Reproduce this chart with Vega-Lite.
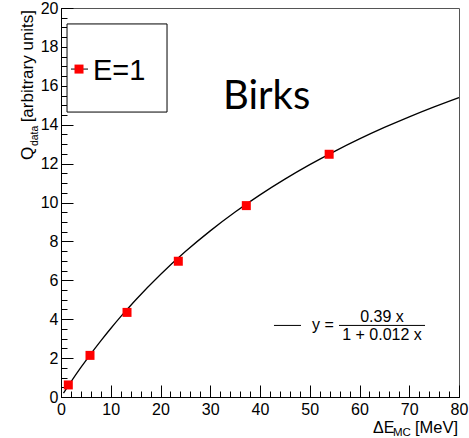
{
  "$schema": "https://vega.github.io/schema/vega-lite/v6.json",
  "width": 398,
  "height": 389,
  "autosize": {"type": "none"},
  "padding": {"left": 61, "top": 8, "right": 10, "bottom": 41},
  "background": "white",
  "config": {
    "view": {"stroke": "#555555", "strokeWidth": 1},
    "axis": {"grid": false, "domainColor": "black", "tickColor": "black", "labelColor": "black", "labelFont": "Liberation Sans", "labelFontSize": 16, "title": null, "domainWidth": 1, "tickWidth": 1},
    "text": {"font": "Liberation Sans", "color": "black"}
  },
  "datasets": {
    "curve": [
      {"dE": 0.5, "Q": 0.198}, {"dE": 2, "Q": 0.778}, {"dE": 4, "Q": 1.517}, {"dE": 6, "Q": 2.219},
      {"dE": 8, "Q": 2.886}, {"dE": 10, "Q": 3.522}, {"dE": 12, "Q": 4.129}, {"dE": 15, "Q": 4.988},
      {"dE": 20, "Q": 6.298}, {"dE": 25, "Q": 7.476}, {"dE": 30, "Q": 8.541}, {"dE": 35, "Q": 9.509},
      {"dE": 40, "Q": 10.393}, {"dE": 45, "Q": 11.202}, {"dE": 50, "Q": 11.946}, {"dE": 55, "Q": 12.632},
      {"dE": 60, "Q": 13.268}, {"dE": 65, "Q": 13.858}, {"dE": 70, "Q": 14.407}, {"dE": 75, "Q": 14.919},
      {"dE": 80, "Q": 15.399}
    ],
    "points": [
      {"dE": 1.47, "Q": 0.62}, {"dE": 5.83, "Q": 2.14}, {"dE": 13.27, "Q": 4.35},
      {"dE": 23.58, "Q": 6.98}, {"dE": 37.25, "Q": 9.84}, {"dE": 53.9, "Q": 12.48}
    ],
    "one": [{}]
  },
  "resolve": {"axis": {"x": "independent", "y": "independent"}},
  "layer": [
    {
      "data": {"name": "curve"},
      "mark": {"type": "line", "color": "black", "strokeWidth": 1.3, "interpolate": "monotone"},
      "encoding": {
        "x": {"field": "dE", "type": "quantitative", "scale": {"domain": [0, 80], "nice": false, "zero": false},
              "axis": {"orient": "bottom", "values": [0, 10, 20, 30, 40, 50, 60, 70, 80], "tickSize": -12, "labelPadding": 16, "labelFlush": false, "labelOverlap": false}},
        "y": {"field": "Q", "type": "quantitative", "scale": {"domain": [0, 20], "nice": false, "zero": false},
              "axis": {"orient": "left", "values": [0, 2, 4, 6, 8, 10, 12, 14, 16, 18, 20], "tickSize": -12, "labelPadding": 15, "labelFlush": false, "labelOverlap": false}}
      }
    },
    {
      "data": {"name": "points"},
      "mark": {"type": "square", "color": "#ff0000", "opacity": 1, "size": 81, "filled": true},
      "encoding": {
        "x": {"field": "dE", "type": "quantitative",
              "axis": {"orient": "bottom", "values": [0,2,4,6,8,10,12,14,16,18,20,22,24,26,28,30,32,34,36,38,40,42,44,46,48,50,52,54,56,58,60,62,64,66,68,70,72,74,76,78,80], "tickSize": -6, "labels": false, "domain": false}},
        "y": {"field": "Q", "type": "quantitative",
              "axis": {"orient": "left", "values": [0,0.5,1,1.5,2,2.5,3,3.5,4,4.5,5,5.5,6,6.5,7,7.5,8,8.5,9,9.5,10,10.5,11,11.5,12,12.5,13,13.5,14,14.5,15,15.5,16,16.5,17,17.5,18,18.5,19,19.5,20], "tickSize": -6, "labels": false, "domain": false}}
      }
    },
    {
      "data": {"name": "one"},
      "mark": {"type": "rect", "fill": "white", "stroke": "black", "strokeWidth": 1},
      "encoding": {"x": {"datum": 1.21, "type": "quantitative", "axis": null}, "x2": {"datum": 21.31}, "y": {"datum": 19.18, "type": "quantitative", "axis": null}, "y2": {"datum": 14.65}}
    },
    {
      "data": {"name": "one"},
      "mark": {"type": "rule", "color": "black", "strokeWidth": 1},
      "encoding": {"x": {"datum": 2.01, "type": "quantitative", "axis": null}, "x2": {"datum": 5.43}, "y": {"datum": 16.86, "type": "quantitative", "axis": null}}
    },
    {
      "data": {"name": "one"},
      "mark": {"type": "square", "color": "#ff0000", "opacity": 1, "size": 81, "filled": true},
      "encoding": {"x": {"datum": 3.62, "type": "quantitative", "axis": null}, "y": {"datum": 16.86, "type": "quantitative", "axis": null}}
    },
    {
      "data": {"name": "one"},
      "mark": {"type": "text", "text": "E=1", "fontSize": 29, "align": "left", "baseline": "alphabetic"},
      "encoding": {"x": {"datum": 6.43, "type": "quantitative", "axis": null}, "y": {"datum": 16.3, "type": "quantitative", "axis": null}}
    },
    {
      "data": {"name": "one"},
      "mark": {"type": "text", "text": "Birks", "font": "Lato", "fontSize": 40, "align": "left", "baseline": "alphabetic"},
      "encoding": {"x": {"datum": 32.56, "type": "quantitative", "axis": null}, "y": {"datum": 14.81, "type": "quantitative", "axis": null}}
    },
    {
      "data": {"name": "one"},
      "mark": {"type": "rule", "color": "black", "strokeWidth": 1},
      "encoding": {"x": {"datum": 42.81, "type": "quantitative", "axis": null}, "x2": {"datum": 48.24}, "y": {"datum": 3.68, "type": "quantitative", "axis": null}}
    },
    {
      "data": {"name": "one"},
      "mark": {"type": "text", "text": "y =", "fontSize": 16, "align": "left", "baseline": "alphabetic"},
      "encoding": {"x": {"datum": 50.45, "type": "quantitative", "axis": null}, "y": {"datum": 3.44, "type": "quantitative", "axis": null}}
    },
    {
      "data": {"name": "one"},
      "mark": {"type": "text", "text": "0.39 x", "fontSize": 16, "align": "center", "baseline": "alphabetic"},
      "encoding": {"x": {"datum": 64.52, "type": "quantitative", "axis": null}, "y": {"datum": 3.88, "type": "quantitative", "axis": null}}
    },
    {
      "data": {"name": "one"},
      "mark": {"type": "rule", "color": "black", "strokeWidth": 1},
      "encoding": {"x": {"datum": 55.88, "type": "quantitative", "axis": null}, "x2": {"datum": 73.17}, "y": {"datum": 3.68, "type": "quantitative", "axis": null}}
    },
    {
      "data": {"name": "one"},
      "mark": {"type": "text", "text": "1 + 0.012 x", "fontSize": 16, "align": "center", "baseline": "alphabetic"},
      "encoding": {"x": {"datum": 64.52, "type": "quantitative", "axis": null}, "y": {"datum": 2.93, "type": "quantitative", "axis": null}}
    },
    {
      "data": {"name": "one"},
      "mark": {"type": "text", "text": "ΔE", "fontSize": 16, "align": "left", "baseline": "alphabetic"},
      "encoding": {"x": {"datum": 62.71, "type": "quantitative", "axis": null}, "y": {"datum": -1.85, "type": "quantitative", "axis": null}}
    },
    {
      "data": {"name": "one"},
      "mark": {"type": "text", "text": "MC", "fontSize": 11.5, "align": "left", "baseline": "alphabetic"},
      "encoding": {"x": {"datum": 66.73, "type": "quantitative", "axis": null}, "y": {"datum": -2.0, "type": "quantitative", "axis": null}}
    },
    {
      "data": {"name": "one"},
      "mark": {"type": "text", "text": "[MeV]", "fontSize": 16.5, "align": "right", "baseline": "alphabetic"},
      "encoding": {"x": {"datum": 79.8, "type": "quantitative", "axis": null}, "y": {"datum": -1.85, "type": "quantitative", "axis": null}}
    },
    {
      "data": {"name": "one"},
      "mark": {"type": "text", "text": "Q", "fontSize": 17, "angle": 270, "align": "left", "baseline": "alphabetic"},
      "encoding": {"x": {"datum": -5.63, "type": "quantitative", "axis": null}, "y": {"datum": 12.18, "type": "quantitative", "axis": null}}
    },
    {
      "data": {"name": "one"},
      "mark": {"type": "text", "text": "data", "fontSize": 10.5, "angle": 270, "align": "left", "baseline": "alphabetic"},
      "encoding": {"x": {"datum": -4.72, "type": "quantitative", "axis": null}, "y": {"datum": 12.9, "type": "quantitative", "axis": null}}
    },
    {
      "data": {"name": "one"},
      "mark": {"type": "text", "text": "[arbitrary units]", "fontSize": 17, "angle": 270, "align": "left", "baseline": "alphabetic"},
      "encoding": {"x": {"datum": -5.63, "type": "quantitative", "axis": null}, "y": {"datum": 14.12, "type": "quantitative", "axis": null}}
    }
  ]
}
